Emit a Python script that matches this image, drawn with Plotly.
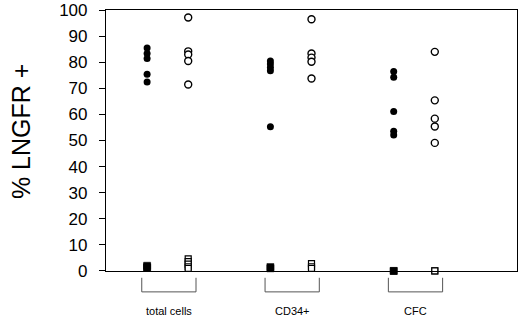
import plotly.graph_objects as go

categories = ["total cells", "CD34+", "CFC"]
x_filled = [1, 4, 7]
x_open = [2, 5, 8]

# % LNGFR+ values (circles)
filled_circles = [
    [85.5, 83.4, 81.5, 75.4, 72.4],
    [80.5, 79.3, 78.0, 76.8, 55.3],
    [76.5, 74.3, 61.1, 53.6, 52.1],
]
open_circles = [
    [97.2, 84.2, 83.0, 80.5, 71.5],
    [96.5, 83.4, 81.8, 80.2, 73.8],
    [84.0, 65.4, 58.4, 55.4, 49.1],
]
# squares near zero
filled_squares = [
    [2.0, 1.5, 1.2],
    [1.5, 1.0],
    [0.0, 0.0],
]
open_squares = [
    [4.6, 3.6, 2.6, 1.6, 1.0],
    [2.8, 1.6, 1.0],
    [0.0, 0.0],
]

y_ticks = list(range(0, 101, 10))

fig = go.Figure()

def xs(pos, vals):
    return [pos] * len(vals)

fx, fy, ox, oy = [], [], [], []
for i in range(3):
    fx += xs(x_filled[i], filled_circles[i]); fy += filled_circles[i]
    ox += xs(x_open[i], open_circles[i]); oy += open_circles[i]

sfx, sfy, sox, soy = [], [], [], []
for i in range(3):
    sfx += xs(x_filled[i], filled_squares[i]); sfy += filled_squares[i]
    sox += xs(x_open[i], open_squares[i]); soy += open_squares[i]

fig.add_trace(go.Scatter(x=fx, y=fy, mode="markers", cliponaxis=False,
                         marker=dict(symbol="circle", size=7, color="black",
                                     line=dict(width=0))))
fig.add_trace(go.Scatter(x=ox, y=oy, mode="markers", cliponaxis=False,
                         marker=dict(symbol="circle", size=7, color="white",
                                     line=dict(width=1.4, color="black"))))
fig.add_trace(go.Scatter(x=sfx, y=sfy, mode="markers", cliponaxis=False,
                         marker=dict(symbol="square", size=7, color="black",
                                     line=dict(width=0.5, color="black"))))
fig.add_trace(go.Scatter(x=sox, y=soy, mode="markers", cliponaxis=False,
                         marker=dict(symbol="square", size=6, color="white",
                                     line=dict(width=1.2, color="black"))))

shapes = []
annotations = []
for i, cat in enumerate(categories):
    c = (x_filled[i] + x_open[i]) / 2 + 0.03
    x0, x1 = c - 0.66, c + 0.66
    line = dict(color="#555555", width=1)
    shapes.append(dict(type="line", xref="x", yref="paper", x0=x0, x1=x0,
                       y0=-0.026, y1=-0.080, line=line))
    shapes.append(dict(type="line", xref="x", yref="paper", x0=x1, x1=x1,
                       y0=-0.026, y1=-0.080, line=line))
    shapes.append(dict(type="line", xref="x", yref="paper", x0=x0, x1=x1,
                       y0=-0.080, y1=-0.080, line=line))
    annotations.append(dict(x=c, y=-0.152, xref="x", yref="paper", text=cat,
                            showarrow=False, xanchor="center", yanchor="middle",
                            font=dict(size=11, color="black",
                                      family="Liberation Sans, Arial, sans-serif")))

annotations.append(dict(x=-0.205, y=0.535, xref="paper", yref="paper",
                        text="% LNGFR +", textangle=-90, showarrow=False,
                        xanchor="center", yanchor="middle",
                        font=dict(size=25, color="black",
                                  family="Liberation Sans, Arial, sans-serif")))

fig.update_layout(
    width=520, height=317,
    margin=dict(l=106, r=3, t=10, b=46),
    paper_bgcolor="white", plot_bgcolor="white",
    showlegend=False,
    shapes=shapes, annotations=annotations,
    font=dict(family="Liberation Sans, Arial, sans-serif", color="black"),
    xaxis=dict(range=[0, 10], showgrid=False, zeroline=False,
               showline=True, linecolor="black", linewidth=1.2, mirror=True,
               showticklabels=False, ticks=""),
    yaxis=dict(range=[-0.02, 100.05], tickvals=y_ticks, showgrid=False, zeroline=False,
               showline=True, linecolor="black", linewidth=1.2, mirror=True,
               ticks="outside", ticklen=6, tickcolor="black", automargin=False,
               ticklabeloverflow="allow",
               tickfont=dict(size=17, color="black"), ticklabelstandoff=8),
)

fig.write_html("out.html",
               config={"displayModeBar": False},
               post_script="document.body.style.margin='0';document.body.style.padding='0';")
